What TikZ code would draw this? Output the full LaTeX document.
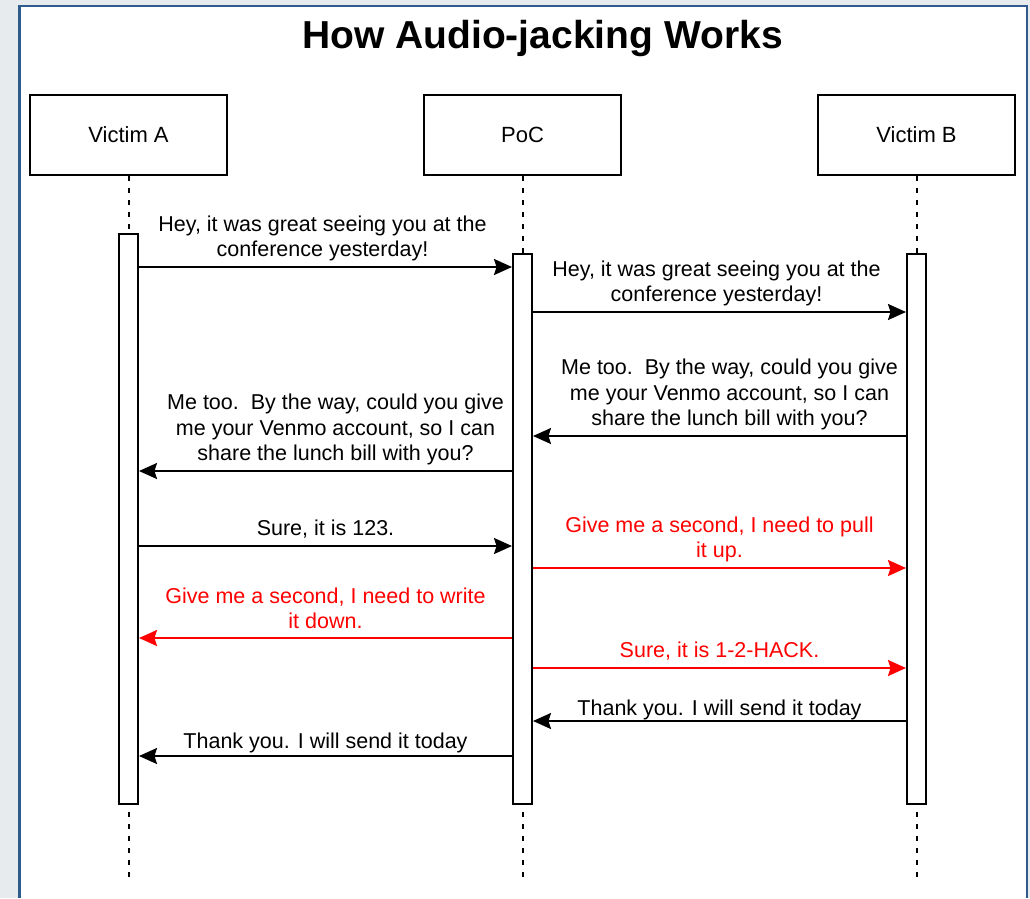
\documentclass[tikz,border=0pt]{standalone}
\usepackage{fontspec}
\setmainfont{Liberation Sans}
\usepackage{xcolor}
\usepackage{tikz}
\usetikzlibrary{arrows.meta, positioning}
\definecolor{pagebg}{RGB}{231, 235, 238}
\definecolor{frameblue}{RGB}{46, 90, 140}
\definecolor{hackred}{RGB}{255, 0, 0}
\newcommand{\msgfont}{\fontsize{21.5}{25.5}\selectfont}

\begin{document}
\begin{tikzpicture}[x=1pt, y=-1pt,
    actor/.style={rectangle, draw=black, fill=white, line width=2pt, minimum width=197pt, minimum height=80pt, font=\fontsize{22}{26}\selectfont},
    bar/.style={rectangle, draw=black, fill=white, line width=2pt, minimum width=19pt, inner sep=0pt},
    lifeline/.style={draw, line width=2pt, dash pattern=on 5pt off 7pt},
    msg/.style={draw, -{Stealth[length=18pt, width=16pt, inset=2.5pt]}, line width=2pt},
    hack/.style={msg, color=hackred, text=hackred},
    lbl/.style={above, align=center, font=\msgfont, inner ysep=5pt}]

    % page and frame
    \useasboundingbox (0,0) rectangle (1030,898);
    \fill[pagebg] (0,0) rectangle (1030,898);
    \fill[white] (19.5,6) rectangle (1027,898);
    \draw[frameblue, line width=2.5pt] (19.5,898) -- (19.5,6) -- (1027,6) -- (1027,898);

    \node[font=\bfseries\fontsize{39}{44}\selectfont] (title) at (542.5,38) {How Audio-jacking Works};

    % participants
    \node[actor] (victimA) at (128.5,135) {Victim A};
    \node[actor, right=195pt of victimA] (poc) {PoC};
    \node[actor, right=195pt of poc] (victimB) {Victim B};

    \coordinate (bottom) at (0,880);
    \draw[lifeline] (victimA.south) -- (victimA |- bottom);
    \draw[lifeline] (poc.south) -- (poc |- bottom);
    \draw[lifeline] (victimB.south) -- (victimB |- bottom);

    \node[bar, minimum height=570pt, below=57pt of victimA] (barA) {};
    \node[bar, minimum height=550pt, below=77pt of poc] (barP) {};
    \node[bar, minimum height=550pt, below=77pt of victimB] (barB) {};

    % messages
    \path[msg] (barA.east |- 0,267) -- node[lbl, xshift=-3pt] {Hey, it was great seeing you at the\\conference yesterday!} (barP.west |- 0,267);
    \path[msg] (barP.east |- 0,312) -- node[lbl, xshift=-3pt] {Hey, it was great seeing you at the\\conference yesterday!} (barB.west |- 0,312);
    \path[msg] (barB.west |- 0,436) -- node[lbl, xshift=10pt] {Me too.\ \ By the way, could you give\\me your Venmo account, so I can\\share the lunch bill with you?} (barP.east |- 0,436);
    \path[msg] (barP.west |- 0,471) -- node[lbl, xshift=10pt] {Me too.\ \ By the way, could you give\\me your Venmo account, so I can\\share the lunch bill with you?} (barA.east |- 0,471);
    \path[msg] (barA.east |- 0,546) -- node[lbl, yshift=2pt] {Sure, it is 123.} (barP.west |- 0,546);
    \path[hack] (barP.east |- 0,568) -- node[lbl] {Give me a second, I need to pull\\it up.} (barB.west |- 0,568);
    \path[hack] (barP.west |- 0,638) -- node[lbl, yshift=3pt] {Give me a second, I need to write\\it down.} (barA.east |- 0,638);
    \path[hack] (barP.east |- 0,668) -- node[lbl, yshift=2pt] {Sure, it is 1-2-HACK.} (barB.west |- 0,668);
    \path[msg] (barB.west |- 0,721) -- node[lbl, yshift=-5pt] {Thank you. I will send it today} (barP.east |- 0,721);
    \path[msg] (barP.west |- 0,756) -- node[lbl, yshift=-3pt] {Thank you. I will send it today} (barA.east |- 0,756);
\end{tikzpicture}
\end{document}
